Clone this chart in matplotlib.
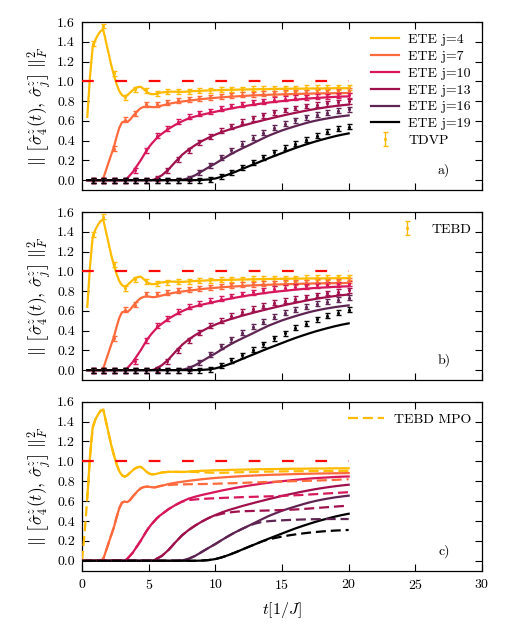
import numpy as np
import matplotlib
matplotlib.use("Agg")
import matplotlib.pyplot as plt
from matplotlib.lines import Line2D

plt.rcParams['font.family'] = ['cmr10', 'DejaVu Serif']
plt.rcParams['mathtext.fontset'] = 'cm'
plt.rcParams['axes.unicode_minus'] = False
plt.rcParams['axes.formatter.use_mathtext'] = True

# ---------------- data ----------------
t_ete = [0.4, 0.6, 0.8, 1.0, 1.2, 1.4, 1.6, 1.8, 2.0, 2.2, 2.4, 2.6, 2.8, 3.0, 3.2, 3.4, 3.6, 3.8,
         4.0, 4.2, 4.4, 4.6, 4.8, 5.0, 5.2, 5.4, 5.6, 5.8, 6.0,
         6.5, 7.0, 7.5, 8.0, 8.5, 9.0, 9.5, 10.0, 10.5, 11.0, 11.5, 12.0, 12.5, 13.0, 13.5, 14.0,
         14.5, 15.0, 15.5, 16.0, 16.5, 17.0, 17.5, 18.0, 18.5, 19.0, 19.5, 20.0]

ete_j4 = [0.64, 1.05, 1.34, 1.42, 1.47, 1.51, 1.52, 1.40, 1.28, 1.16, 1.06, 0.97, 0.90, 0.86, 0.845,
          0.86, 0.885, 0.91, 0.93, 0.942, 0.945, 0.925, 0.90, 0.88, 0.87, 0.87, 0.875, 0.882, 0.888,
          0.895, 0.895, 0.893, 0.897, 0.902, 0.905, 0.908, 0.91, 0.912, 0.914, 0.915, 0.917, 0.918,
          0.92, 0.921, 0.922, 0.923, 0.924, 0.925, 0.926, 0.926, 0.927, 0.928, 0.928, 0.929, 0.93,
          0.93, 0.93]
ete_j7 = [0, 0, 0, 0, 0, 0, 0.02, 0.10, 0.18, 0.26, 0.34, 0.44, 0.53, 0.585, 0.595, 0.59, 0.61,
          0.645, 0.675, 0.705, 0.728, 0.74, 0.745, 0.745, 0.74, 0.738, 0.742, 0.75, 0.755,
          0.772, 0.785, 0.795, 0.804, 0.812, 0.82, 0.827, 0.833, 0.838, 0.843, 0.847, 0.851, 0.855,
          0.858, 0.861, 0.864, 0.866, 0.868, 0.870, 0.872, 0.874, 0.875, 0.877, 0.878, 0.879, 0.880,
          0.881, 0.882]
ete_j10 = [0] * 15 + [0.02, 0.05, 0.08, 0.12, 0.16, 0.20, 0.245, 0.29, 0.33, 0.365, 0.395, 0.425,
                      0.45, 0.47,
                      0.52, 0.56, 0.595, 0.625, 0.645, 0.662, 0.677, 0.692, 0.707, 0.72, 0.733,
                      0.745, 0.756, 0.766, 0.776, 0.785, 0.793, 0.80, 0.807, 0.814, 0.82, 0.826,
                      0.831, 0.835, 0.839, 0.843, 0.846, 0.848]
ete_j13 = [0] * 25 + [0.005, 0.02, 0.035, 0.05,
                      0.11, 0.185, 0.255, 0.31, 0.355, 0.395, 0.43, 0.46, 0.487, 0.51, 0.53, 0.55,
                      0.568, 0.586, 0.603, 0.62, 0.636, 0.652, 0.667, 0.681, 0.695, 0.708, 0.72,
                      0.731, 0.741, 0.75, 0.758, 0.765]
ete_j16 = [0] * 29 + [0, 0, 0.003, 0.02, 0.05, 0.09, 0.13, 0.168, 0.21, 0.25, 0.287, 0.32, 0.352,
                      0.385, 0.418, 0.45, 0.477, 0.503, 0.525, 0.546, 0.566, 0.585, 0.601, 0.615,
                      0.627, 0.638, 0.647, 0.655]
ete_j19 = [0] * 29 + [0, 0, 0, 0, 0, 0.002, 0.007, 0.017, 0.035, 0.058, 0.084, 0.112, 0.14, 0.167,
                      0.195, 0.222, 0.248, 0.274, 0.30, 0.325, 0.348, 0.37, 0.391, 0.41, 0.428,
                      0.445, 0.46, 0.473]

# TDVP / TEBD sample times and values
t_pts = [0.8, 1.6, 2.4, 3.2, 4.0, 4.8, 5.6, 6.4, 7.2, 8.0, 8.8, 9.6, 10.4, 11.2, 12.0, 12.8, 13.6,
         14.4, 15.2, 16.0, 16.8, 17.6, 18.4, 19.2, 20.0]
tdvp_j4 = [1.38, 1.56, 1.08, 0.84, 0.92, 0.91, 0.88, 0.895, 0.90, 0.90, 0.905, 0.91, 0.915, 0.92,
           0.92, 0.925, 0.925, 0.93, 0.93, 0.93, 0.935, 0.935, 0.935, 0.94, 0.94]
tdvp_j7 = [0, 0, 0.32, 0.61, 0.67, 0.77, 0.77, 0.79, 0.81, 0.82, 0.83, 0.84, 0.85, 0.86, 0.865,
           0.87, 0.875, 0.88, 0.885, 0.89, 0.89, 0.895, 0.90, 0.90, 0.905]
tdvp_j10 = [0, 0, 0, 0, 0.10, 0.30, 0.45, 0.52, 0.59, 0.64, 0.675, 0.695, 0.725, 0.75, 0.77, 0.79,
            0.80, 0.815, 0.825, 0.835, 0.84, 0.845, 0.85, 0.855, 0.86]
tdvp_j13 = [0, 0, 0, 0, 0, 0, 0.02, 0.10, 0.21, 0.30, 0.385, 0.44, 0.50, 0.545, 0.59, 0.625, 0.655,
            0.685, 0.71, 0.73, 0.75, 0.765, 0.78, 0.79, 0.80]
tdvp_j16 = [0, 0, 0, 0, 0, 0, 0, 0, 0, 0.02, 0.08, 0.15, 0.23, 0.30, 0.37, 0.43, 0.48, 0.53, 0.57,
            0.605, 0.635, 0.66, 0.68, 0.70, 0.715]
tdvp_j19 = [0, 0, 0, 0, 0, 0, 0, 0, 0, 0, 0, 0.005, 0.04, 0.08, 0.13, 0.18, 0.23, 0.28, 0.33, 0.37,
            0.41, 0.45, 0.49, 0.52, 0.54]

tebd_j4 = [1.37, 1.55, 1.07, 0.83, 0.92, 0.90, 0.88, 0.89, 0.895, 0.90, 0.905, 0.91, 0.915, 0.92,
           0.92, 0.925, 0.925, 0.93, 0.93, 0.93, 0.935, 0.935, 0.935, 0.94, 0.94]
tebd_j7 = [0, 0, 0.32, 0.61, 0.66, 0.77, 0.77, 0.79, 0.81, 0.82, 0.83, 0.84, 0.85, 0.86, 0.865,
           0.87, 0.875, 0.88, 0.885, 0.89, 0.89, 0.895, 0.90, 0.90, 0.905]
tebd_j10 = [0, 0, 0, 0, 0.09, 0.30, 0.45, 0.52, 0.59, 0.64, 0.67, 0.70, 0.72, 0.75, 0.77, 0.79,
            0.81, 0.825, 0.835, 0.845, 0.85, 0.86, 0.865, 0.87, 0.875]
tebd_j13 = [0, 0, 0, 0, 0, 0, 0.01, 0.09, 0.20, 0.30, 0.38, 0.45, 0.50, 0.55, 0.59, 0.62, 0.65,
            0.68, 0.70, 0.72, 0.74, 0.76, 0.78, 0.795, 0.81]
tebd_j16 = [0, 0, 0, 0, 0, 0, 0, 0, 0, 0.02, 0.08, 0.16, 0.24, 0.31, 0.38, 0.44, 0.49, 0.54, 0.58,
            0.61, 0.64, 0.67, 0.69, 0.71, 0.73]
tebd_j19 = [0, 0, 0, 0, 0, 0, 0, 0, 0, 0, 0, 0.01, 0.05, 0.10, 0.15, 0.205, 0.26, 0.32, 0.375, 0.43,
            0.47, 0.515, 0.55, 0.58, 0.61]
pts_err = 0.025

# TEBD MPO (panel c)
t_mpo = [0.0, 0.2] + t_ete
mpo_j4 = [0.0, 0.28, 0.64, 1.05, 1.34, 1.42, 1.47, 1.51, 1.52, 1.40, 1.28, 1.16, 1.06, 0.97, 0.90,
          0.86, 0.845, 0.86, 0.885, 0.91, 0.93, 0.942, 0.945, 0.925, 0.90, 0.88, 0.87, 0.87, 0.875,
          0.882, 0.888, 0.895, 0.895, 0.893, 0.897, 0.893, 0.89, 0.887, 0.885, 0.885, 0.887,
          0.889, 0.891, 0.893, 0.895, 0.896, 0.897, 0.898, 0.899, 0.9, 0.9, 0.901, 0.902, 0.903,
          0.903, 0.904, 0.904, 0.905, 0.905]
mpo_j7 = [0] * 8 + [0.02, 0.10, 0.18, 0.26, 0.34, 0.44, 0.53, 0.585, 0.595, 0.59, 0.61, 0.645,
                    0.675, 0.705, 0.728, 0.74, 0.745, 0.745, 0.74, 0.738, 0.742, 0.75, 0.755,
                    0.762, 0.766, 0.768, 0.77, 0.771, 0.772, 0.773, 0.775, 0.777, 0.779, 0.781,
                    0.783, 0.786, 0.788, 0.79, 0.793, 0.795, 0.797, 0.799, 0.801, 0.803, 0.805,
                    0.807, 0.809, 0.811, 0.814, 0.817, 0.82]
mpo_j10 = [0] * 17 + [0.02, 0.05, 0.08, 0.12, 0.16, 0.20, 0.245, 0.29, 0.33, 0.365, 0.395, 0.425,
                      0.45, 0.47, 0.52, 0.56, 0.595,
                      0.61, 0.617, 0.622, 0.626, 0.629, 0.632, 0.635, 0.637, 0.64, 0.642, 0.644,
                      0.646, 0.648, 0.65, 0.653, 0.656, 0.659, 0.662, 0.666, 0.67, 0.674, 0.678,
                      0.682, 0.686, 0.69]
mpo_j13 = [0] * 27 + [0.005, 0.02, 0.035, 0.05, 0.11, 0.185, 0.255, 0.31, 0.355, 0.395, 0.43,
                      0.455, 0.473, 0.485, 0.493, 0.498, 0.5, 0.502, 0.504, 0.506, 0.508, 0.51,
                      0.513, 0.516, 0.52, 0.525, 0.53, 0.535, 0.54, 0.545, 0.55, 0.555]
mpo_j16 = [0] * 31 + [0, 0, 0.003, 0.02, 0.05, 0.09, 0.13, 0.168, 0.21, 0.25, 0.287, 0.32, 0.352,
                      0.375, 0.39, 0.398, 0.403, 0.407, 0.41, 0.413, 0.415, 0.417, 0.418, 0.419,
                      0.42, 0.42, 0.42, 0.42]
mpo_j19 = [0] * 31 + [0, 0, 0, 0, 0, 0.002, 0.007, 0.017, 0.035, 0.058, 0.084, 0.112, 0.14, 0.167,
                      0.195, 0.215, 0.23, 0.243, 0.255, 0.265, 0.274, 0.282, 0.289, 0.295, 0.3,
                      0.304, 0.307, 0.31]

sites = ["4", "7", "10", "13", "16", "19"]
colors = ["#ffbb00", "#ff6a3c", "#d8175a", "#a0104c", "#5e2452", "#000000"]
ref_t = [0.0, 20.0]
ref_v = [1.0, 1.0]
panel_tags = ["a)", "b)", "c)"]

ete = [ete_j4, ete_j7, ete_j10, ete_j13, ete_j16, ete_j19]
tdvp = [tdvp_j4, tdvp_j7, tdvp_j10, tdvp_j13, tdvp_j16, tdvp_j19]
tebd = [tebd_j4, tebd_j7, tebd_j10, tebd_j13, tebd_j16, tebd_j19]
mpo = [mpo_j4, mpo_j7, mpo_j10, mpo_j13, mpo_j16, mpo_j19]

# ---------------- figure ----------------
fig = plt.figure(figsize=(5.07, 6.33), dpi=100)
L, W = 0.1617, 0.789
boxes = [(0.6998, 0.2654), (0.3997, 0.2654), (0.0984, 0.2670)]
axes = [fig.add_axes([L, b, W, h]) for b, h in boxes]

ylab = r"$||\;\left[\hat{\sigma}^z_4(t),\,\hat{\sigma}^z_j\right]\;||^2_F$"

for k, ax in enumerate(axes):
    for i in range(6):
        ax.plot(t_ete, ete[i], color=colors[i], lw=1.6, zorder=2,
                label=f"ETE j={sites[i]}")
    if k == 0 or k == 1:
        data = tdvp if k == 0 else tebd
        handles = []
        for i in range(6):
            h = ax.errorbar(t_pts, data[i], yerr=pts_err, fmt='.', ms=2.5,
                            color=colors[i], ecolor=colors[i], elinewidth=1.0,
                            capsize=1.8, capthick=1.0, zorder=3)
            handles.append(h)
    else:
        for i in range(6):
            ax.plot(t_mpo, mpo[i], color=colors[i], lw=1.6, dashes=(4.5, 2.2), zorder=3)
    ax.plot(ref_t, ref_v, color="#ff0a0a", lw=1.6, dashes=(5.3, 9.7), zorder=4)

    ax.set_xlim(0, 30)
    ax.set_ylim(-0.1, 1.6)
    ax.set_xticks(np.arange(0, 31, 5))
    ax.set_yticks(np.arange(0, 1.61, 0.2))
    ax.set_yticklabels([f"{v:.1f}" for v in np.arange(0, 1.61, 0.2)])
    ax.tick_params(direction='in', top=True, right=True, length=5, width=0.8,
                   labelsize=10, pad=5)
    if k < 2:
        ax.tick_params(labelbottom=False)
    for s in ax.spines.values():
        s.set_linewidth(0.9)
    ax.set_ylabel(ylab, fontsize=12.5, labelpad=3)
    ax.text(0.905, 0.115, panel_tags[k], transform=ax.transAxes, fontsize=10,
            ha='center', va='center')

    if k == 0:
        hl, ll = ax.get_legend_handles_labels()
        hl = hl[:6] + [handles[0]]
        ll = ll[:6] + ["TDVP"]
        ax.legend(hl, ll, loc='upper right', frameon=False, fontsize=10,
                  handlelength=2.0, handletextpad=0.7, labelspacing=0.3,
                  borderaxespad=0.5, borderpad=0.3)
    elif k == 1:
        ax.legend([handles[0]], ["TEBD"], loc='upper right', frameon=False, fontsize=10,
                  handlelength=2.0, handletextpad=0.7, borderaxespad=0.5, borderpad=0.3)
    else:
        hd = Line2D([], [], color=colors[0], lw=1.6, dashes=(4.5, 2.2))
        ax.legend([hd], ["TEBD MPO"], loc='upper right', frameon=False, fontsize=10,
                  handlelength=2.6, handletextpad=0.7, borderaxespad=0.5, borderpad=0.3)

axes[2].set_xlabel(r"$t[1/J]$", fontsize=11.5, labelpad=6)

fig.savefig("out.png", dpi=100)
